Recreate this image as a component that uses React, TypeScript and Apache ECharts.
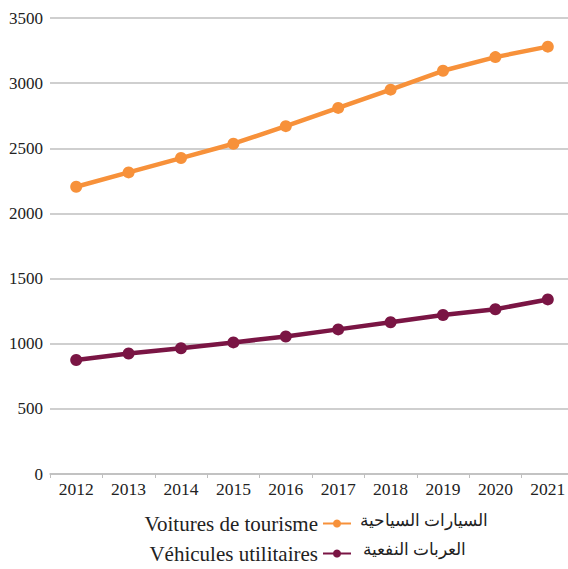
import React, { useEffect, useRef } from "react";
import * as echarts from "echarts";

const years = ["2012", "2013", "2014", "2015", "2016", "2017", "2018", "2019", "2020", "2021"];
const tourisme = [2205, 2315, 2425, 2535, 2670, 2810, 2950, 3095, 3200, 3280];
const utilitaires = [875, 925, 965, 1010, 1055, 1110, 1165, 1220, 1265, 1340];
const namesFr = ["Voitures de tourisme", "Véhicules utilitaires"];
const namesAr = ["السيارات السياحية", "العربات النفعية"];
const colors = ["#F7913A", "#7A1544"];

const FONT = "Times New Roman";

export default function App() {
  const ref = useRef<HTMLDivElement>(null);
  useEffect(() => {
    const chart = echarts.init(ref.current!, null, { renderer: "svg" });
    const legendBase = {
      orient: "horizontal",
      align: "right",
      right: 211,
      itemWidth: 28,
      itemHeight: 10,
      textStyle: { fontSize: 21, color: "#222", fontFamily: FONT },
    };
    chart.setOption({
      animation: false,
      textStyle: { fontFamily: FONT },
      grid: {
        left: 50,
        right: -6,
        top: 18,
        bottom: 95,
        containLabel: false,
        outerBoundsMode: "none",
      },
      xAxis: {
        type: "category",
        data: years,
        boundaryGap: true,
        axisLine: { lineStyle: { color: "#bfbfbf", width: 1.5 } },
        axisTick: { show: true, length: 4, lineStyle: { color: "#bfbfbf" } },
        axisLabel: { color: "#222", fontSize: 17.5, fontFamily: FONT, margin: 6, interval: 0 },
      },
      yAxis: {
        type: "value",
        min: 0,
        max: 3500,
        interval: 500,
        axisLine: { show: false },
        axisTick: { show: false },
        splitLine: { lineStyle: { color: "#bfbfbf", width: 1.5 } },
        axisLabel: {
          color: "#222",
          fontSize: 17,
          fontFamily: FONT,
          margin: 7,
          formatter: (v: number) => String(v),
        },
      },
      legend: [
        { ...legendBase, top: 508, data: [namesFr[0]] },
        { ...legendBase, top: 538, data: [namesFr[1]] },
      ],
      graphic: [
        {
          type: "text",
          left: 360,
          top: 512,
          style: { text: namesAr[0], fontSize: 16.5, fill: "#222", fontFamily: FONT },
        },
        {
          type: "text",
          left: 363,
          top: 541,
          style: { text: namesAr[1], fontSize: 16.5, fill: "#222", fontFamily: FONT },
        },
      ],
      series: [
        {
          name: namesFr[0],
          type: "line",
          data: tourisme,
          symbol: "circle",
          symbolSize: 12,
          lineStyle: { width: 4.5, color: colors[0] },
          itemStyle: { color: colors[0] },
        },
        {
          name: namesFr[1],
          type: "line",
          data: utilitaires,
          symbol: "circle",
          symbolSize: 12,
          lineStyle: { width: 4.5, color: colors[1] },
          itemStyle: { color: colors[1] },
        },
      ],
    });
    return () => chart.dispose();
  }, []);
  return <div ref={ref} style={{ width: 568, height: 569, position: "absolute", left: 0, top: 0 }} />;
}
